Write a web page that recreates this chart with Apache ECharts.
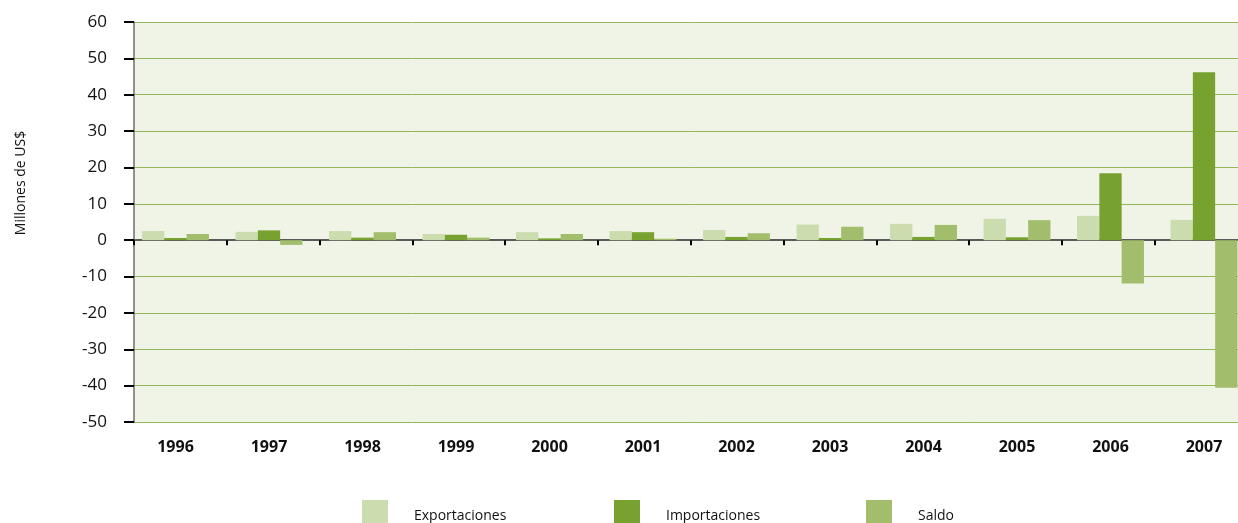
<!DOCTYPE html>
<html>
<head>
<meta charset="utf-8">
<script src="https://cdn.jsdelivr.net/npm/echarts@6/dist/echarts.min.js"></script>
<style>
html,body{margin:0;padding:0;background:#ffffff;overflow:hidden;}
#chart{width:1260px;height:523px;}
</style>
</head>
<body>
<div id="chart"></div>
<script>
var categories = ['1996','1997','1998','1999','2000','2001','2002','2003','2004','2005','2006','2007'];
var exportaciones = [2.5, 2.3, 2.5, 1.7, 2.2, 2.5, 2.8, 4.3, 4.5, 5.9, 6.7, 5.6];
var importaciones = [0.6, 2.7, 0.7, 1.5, 0.5, 2.2, 0.9, 0.6, 0.9, 0.8, 18.4, 46.2];
var saldo = [1.7, -1.3, 2.2, 0.7, 1.7, 0.4, 1.9, 3.7, 4.2, 5.5, -11.9, -40.6];
var seriesNames = ['Exportaciones', 'Importaciones', 'Saldo'];
var yAxisTitle = 'Millones de US$';
var yMin = -50, yMax = 60, yStep = 10;

var colors = ['#cbdcae', '#78a22f', '#a2bd6c'];
var font = 'Open Sans';

var chart = echarts.init(document.getElementById('chart'), null, {renderer: 'canvas'});

function legendFor(i, left) {
  return {
    data: [seriesNames[i]],
    left: left,
    top: 500,
    padding: 0,
    itemWidth: 26,
    itemHeight: 23,
    icon: 'rect',
    selectedMode: false,
    formatter: function (n) { return '{t|' + n + '}'; },
    textStyle: {
      fontFamily: font, fontSize: 14, color: '#111',
      rich: {t: {fontFamily: font, fontSize: 14, color: '#111', padding: [10, 0, 0, 21]}}
    }
  };
}

var option = {
  animation: false,
  backgroundColor: '#ffffff',
  color: colors,
  grid: [{
    left: 128.75, right: 9.25, top: 22, bottom: 101,
    show: false
  }, {
    left: 134, right: 12.6, top: 22, bottom: 101,
    show: true, backgroundColor: '#f0f4e6', borderWidth: 0
  }],
  legend: [legendFor(0, 362), legendFor(1, 614), legendFor(2, 866)],
  graphic: [{
    type: 'text',
    x: 21, y: 183,
    rotation: Math.PI / 2,
    style: {
      text: yAxisTitle,
      fontFamily: font, fontSize: 14, fill: '#111',
      textAlign: 'center', textVerticalAlign: 'middle'
    }
  }],
  xAxis: [{
    type: 'category',
    gridIndex: 0,
    data: categories,
    position: 'bottom',
    axisLine: {show: false, onZero: false},
    axisTick: {show: false},
    axisLabel: {fontFamily: font, fontSize: 16, fontWeight: 'bold', color: '#111', margin: 17},
    splitLine: {show: false}
  }, {
    type: 'category',
    gridIndex: 1,
    data: categories,
    position: 'bottom',
    axisLine: {show: true, onZero: true, lineStyle: {color: '#5a5a5a', width: 2}},
    axisTick: {show: true, length: 5, lineStyle: {color: '#000', width: 2}},
    axisLabel: {show: false},
    splitLine: {show: false}
  }],
  yAxis: [{
    type: 'value',
    gridIndex: 0,
    min: yMin, max: yMax, interval: yStep,
    show: false,
    splitLine: {show: false}
  }, {
    type: 'value',
    gridIndex: 1,
    min: yMin, max: yMax, interval: yStep,
    axisLine: {show: true, lineStyle: {color: '#6e6e6e', width: 1.5}},
    axisTick: {show: true, length: 10, lineStyle: {color: '#000', width: 2}},
    axisLabel: {fontFamily: font, fontSize: 17, color: '#111', margin: 27},
    splitLine: {show: true, lineStyle: {color: '#93b75a', width: 1}}
  }],
  series: [
    {name: seriesNames[0], type: 'bar', xAxisIndex: 0, yAxisIndex: 0, data: exportaciones, barWidth: 22.3, barGap: '0%', itemStyle: {color: colors[0]}},
    {name: seriesNames[1], type: 'bar', xAxisIndex: 0, yAxisIndex: 0, data: importaciones, barWidth: 22.3, barGap: '0%', itemStyle: {color: colors[1]}},
    {name: seriesNames[2], type: 'bar', xAxisIndex: 0, yAxisIndex: 0, data: saldo, barWidth: 22.3, barGap: '0%', itemStyle: {color: colors[2]}}
  ]
};
chart.setOption(option);
</script>
</body>
</html>
